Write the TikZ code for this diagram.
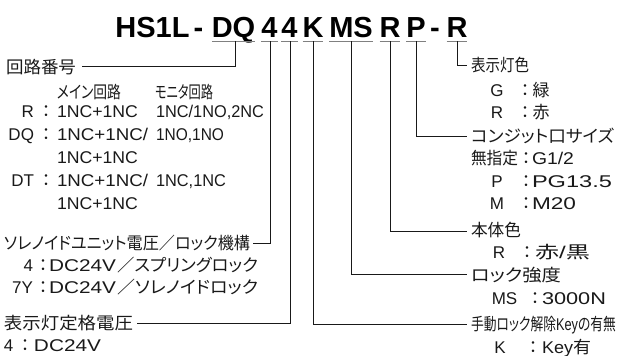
\documentclass[tikz,border=0pt]{standalone}
\usepackage{fontspec}
\usepackage{graphicx}
\setmainfont{Liberation Sans}
\newfontfamily\jp[RawFeature=+palt]{Noto Sans CJK JP}
\newbox\fwbox
\newdimen\fwlen
\newcommand\fw[2]{\setbox\fwbox=\hbox{#2}\fwlen=\wd\fwbox\scalebox{\fpeval{round(#1/\fwlen,4)}}[1]{\box\fwbox}}
\begin{document}
\begin{tikzpicture}[x=1pt,y=-1pt,
  txt/.style={inner sep=0pt,outer sep=0pt,text=black!90,font=\fontsize{17}{17}\selectfont},
  lw/.style={txt,anchor=base west},
  lc/.style={txt,anchor=base},
  le/.style={txt,anchor=base east},
  tit/.style={inner sep=0pt,outer sep=0pt,anchor=base,font=\bfseries\fontsize{29}{29}\selectfont},
  uline/.style={draw=black!50,line width=0.9pt},
  conn/.style={draw=black!90,line width=0.9pt}]
\useasboundingbox (0,0) rectangle (619,356);
% title
\node[tit] (tHS) at (152.5,37) {HS1L};
\node[tit] (tD1) at (198.5,37) {-};
\node[tit] (tDQ) at (233.5,37) {DQ};
\node[tit] (t4a) at (269.5,37) {4};
\node[tit] (t4b) at (289.5,37) {4};
\node[tit] (tK) at (313,37) {K};
\node[tit] (tMS) at (351,37) {MS};
\node[tit] (tR) at (390,37) {R};
\node[tit] (tP) at (416,37) {P};
\node[tit] (tD2) at (435,37) {-};
\node[tit] (tR2) at (457,37) {R};
\foreach \n in {tDQ,t4a,t4b,tK,tMS,tR,tP,tR2}
  \draw[uline] ([yshift=-4pt]\n.base west) -- ([yshift=-4pt]\n.base east);
% left column
\node[lw] (kairo) at (6,73) {\fw{70}{\jp 回路番号}};
\node[lw] (mainc) at (57,98) {\fw{64}{\jp メイン回路}};
\node[lw] (monic) at (155,98) {\fw{58}{\jp モニタ回路}};
\node[le] (rR) at (34,117) {R};
\node[lc] (rRc) at (46,117) {\jp ：};
\node[lw] (rR1) at (57,117) {\fw{81}{1NC+1NC}};
\node[lw] (rR2) at (156,117) {\fw{108}{1NC/1NO,2NC}};
\node[le] (rDQ) at (34,140) {DQ};
\node[lc] (rDQc) at (46,140) {\jp ：};
\node[lw] (rDQ1) at (57,140) {\fw{91}{1NC+1NC/}};
\node[lw] (rDQ2) at (156,140) {\fw{68}{1NO,1NO}};
\node[lw] (rDQ3) at (57,163) {\fw{81}{1NC+1NC}};
\node[le] (rDT) at (34,186) {DT};
\node[lc] (rDTc) at (46,186) {\jp ：};
\node[lw] (rDT1) at (57,186) {\fw{91}{1NC+1NC/}};
\node[lw] (rDT2) at (156,186) {\fw{70}{1NC,1NC}};
\node[lw] (rDT3) at (57,209) {\fw{81}{1NC+1NC}};
\node[lw] (sole) at (4,249) {\fw{246}{\jp ソレノイドユニット電圧／ロック機構}};
\node[le] (s4) at (33,271) {4};
\node[lc] (s4c) at (43,271) {\jp ：};
\node[lw] (s4a) at (49,271) {\fw{67}{DC24V}};
\node[lw] (s4b) at (117,271) {\fw{141}{\jp ／スプリングロック}};
\node[le] (s7) at (33,293) {7Y};
\node[lc] (s7c) at (43,293) {\jp ：};
\node[lw] (s7a) at (49,293) {\fw{67}{DC24V}};
\node[lw] (s7b) at (117,293) {\fw{141}{\jp ／ソレノイドロック}};
\node[lw] (hyo) at (4,329) {\fw{129}{\jp 表示灯定格電圧}};
\node[lw] (h4) at (4,351) {4};
\node[lc] (h4c) at (25,351) {\jp ：};
\node[lw] (h4a) at (34,351) {\fw{67}{DC24V}};
% right column
\node[lw] (lamp) at (471,71) {\fw{58}{\jp 表示灯色}};
\node[lc] (lG) at (497,96) {G};
\node[lc] (lGc) at (525,96) {\jp ：};
\node[lc] (lGv) at (541,96) {\jp 緑};
\node[lc] (lR) at (497,118) {R};
\node[lc] (lRc) at (525,118) {\jp ：};
\node[lc] (lRv) at (541,118) {\jp 赤};
\node[lw] (cond) at (471,142) {\fw{143}{\jp コンジット口サイズ}};
\node[lw] (cN) at (471,164) {\fw{47}{\jp 無指定}};
\node[lc] (cNc) at (526,164) {\jp ：};
\node[lw] (cNv) at (532,164) {\fw{42}{G1/2}};
\node[lc] (cP) at (497,187) {P};
\node[lc] (cPc) at (526,187) {\jp ：};
\node[lw] (cPv) at (532,187) {\fw{80}{PG13.5}};
\node[lc] (cM) at (497,209) {M};
\node[lc] (cMc) at (526,209) {\jp ：};
\node[lw] (cMv) at (532,209) {\fw{44}{M20}};
\node[lw] (body) at (471,236) {\fw{50}{\jp 本体色}};
\node[lc] (bR) at (499,258) {R};
\node[lc] (bRc) at (527,258) {\jp ：};
\node[lw] (bRv) at (535,258) {\fw{55}{{\jp 赤}/{\jp 黒}}};
\node[lw] (lock) at (471,281) {\fw{90}{\jp ロック強度}};
\node[lc] (lMS) at (504.5,304) {MS};
\node[lc] (lMSc) at (535,304) {\jp ：};
\node[lw] (lMSv) at (542,304) {\fw{64}{3000N}};
\node[lw] (man) at (471,330) {\fw{145}{{\jp 手動ロック解除}Key{\jp の有無}}};
\node[lc] (mK) at (500,353) {K};
\node[lc] (mKc) at (533,353) {\jp ：};
\node[lw] (mKv) at (542,353) {\fw{49}{Key{\jp 有}}};
% connector points
\coordinate (sDQ) at (235,41);  \coordinate (eDQ) at (82,66);
\coordinate (s4a) at (270,41);  \coordinate (e4a) at (253,243);
\coordinate (s4b) at (290,41);  \coordinate (e4b) at (137,323);
\coordinate (sK) at (313,41);   \coordinate (eK) at (467,324);
\coordinate (sMS) at (351,41);  \coordinate (eMS) at (467,274);
\coordinate (sR) at (390,41);   \coordinate (eR) at (467,231);
\coordinate (sP) at (416,41);   \coordinate (eP) at (467,136);
\coordinate (sR2) at (457,41);  \coordinate (eR2) at (467,65);
\foreach \a/\b in {sDQ/eDQ,s4a/e4a,s4b/e4b,sK/eK,sMS/eMS,sR/eR,sP/eP,sR2/eR2}
  \draw[conn] (\a) |- (\b);
\end{tikzpicture}
\end{document}
